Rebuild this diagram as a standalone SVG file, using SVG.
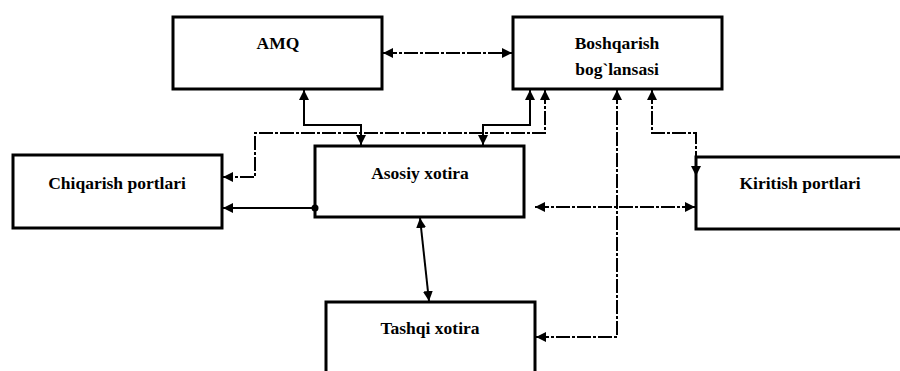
<svg xmlns="http://www.w3.org/2000/svg" width="900" height="371" viewBox="0 0 900 371">
<defs>
<marker id="ah" viewBox="0 0 10 10" refX="10" refY="5" markerWidth="10" markerHeight="10" markerUnits="userSpaceOnUse" orient="auto-start-reverse">
<path d="M0,0 L10,5 L0,10 z" fill="#000"/>
</marker>
<style>
.box{fill:#fff;stroke:#000;stroke-width:3}
.lbl{font-family:"Liberation Serif","Times New Roman",serif;font-size:17.5px;font-weight:bold;fill:#000;text-anchor:middle}
.c{fill:none;stroke:#000;stroke-width:2}
.d{stroke-dasharray:14 2 3 2}
</style>
</defs>
<rect width="900" height="371" fill="#fff"/>
<g id="amq">
<rect class="box" x="173" y="17" width="209" height="72"/>
<text class="lbl" x="278" y="49">AMQ</text>
</g>
<g id="boshqarish">
<rect class="box" x="513" y="17" width="209" height="72"/>
<text class="lbl" x="617" y="49">Boshqarish</text>
<text class="lbl" x="617" y="75">bog`lansasi</text>
</g>
<g id="chiqarish">
<rect class="box" x="13" y="155" width="209" height="73"/>
<text class="lbl" x="117" y="189">Chiqarish portlari</text>
</g>
<g id="asosiy">
<rect class="box" x="315" y="146" width="209" height="71"/>
<text class="lbl" x="420" y="179">Asosiy xotira</text>
</g>
<g id="kiritish">
<rect class="box" x="696" y="157" width="210" height="72"/>
<text class="lbl" x="800" y="189">Kiritish portlari</text>
</g>
<g id="tashqi">
<rect class="box" x="326" y="302" width="209" height="80"/>
<text class="lbl" x="430" y="334">Tashqi xotira</text>
</g>
<g id="connectors">
<path class="c d" d="M383,53 H512" stroke-width="1.5" marker-start="url(#ah)" marker-end="url(#ah)"/>
<path class="c" d="M304,90 V125 H361 V145" marker-start="url(#ah)" marker-end="url(#ah)"/>
<path class="c" d="M530,90 V125 H483 V145" marker-start="url(#ah)" marker-end="url(#ah)"/>
<path class="c d" d="M545,90 V133 H255 V177 H223" marker-start="url(#ah)" marker-end="url(#ah)"/>
<path class="c" d="M315,208 H223" marker-end="url(#ah)"/>
<circle cx="315" cy="208" r="3.5" fill="#000"/>
<path class="c d" d="M535,207 H695" marker-start="url(#ah)" marker-end="url(#ah)"/>
<path class="c d" d="M617,90 V337 H536" stroke-width="1.5" marker-start="url(#ah)" marker-end="url(#ah)"/>
<path class="c d" d="M652,90 V133 H696 V176" marker-start="url(#ah)" marker-end="url(#ah)"/>
<path class="c" d="M420,218 L429,301" marker-start="url(#ah)" marker-end="url(#ah)"/>
</g>
</svg>
